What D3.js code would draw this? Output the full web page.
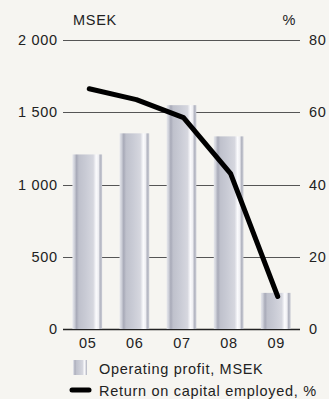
<!DOCTYPE html>
<meta charset="utf-8">
<style>
body { margin: 0; background: #f6f5f1; }
svg { display: block; }
text { font-family: "Liberation Sans", Arial, sans-serif; fill: #222; font-size: 14.5px; letter-spacing: 0.7px; }
</style>
<body>
<svg width="329" height="399"></svg>
<script src="https://d3js.org/d3.v7.min.js"></script>
<script>
var years = ["05", "06", "07", "08", "09"];
var profit = [1208, 1354, 1549, 1333, 250];
var roce = [66.5, 63.5, 58.5, 43, 9];
var leftTicks = [0, 500, 1000, 1500, 2000];
var rightTicks = [0, 20, 40, 60, 80];

var svg = d3.select("svg");
var x0 = 63, x1 = 300, yTop = 40, yBot = 329;

var x = d3.scaleBand().domain(years).range([x0, x1]).paddingInner(0.37).paddingOuter(0.2);
var yL = d3.scaleLinear().domain([0, 2000]).range([yBot, yTop]);
var yR = d3.scaleLinear().domain([0, 80]).range([yBot, yTop]);

// bar gradient (cylinder look)
var grad = svg.append("defs").append("linearGradient").attr("id", "bar")
    .attr("x1", 0).attr("x2", 1).attr("y1", 0).attr("y2", 0);
[[0, "#e6e7ec"], [0.06, "#d2d4dc"], [0.14, "#a8aab8"], [0.22, "#bfc1cc"],
 [0.45, "#c9cbd5"], [0.7, "#d6d7df"], [0.8, "#fbfbfd"], [0.88, "#eeeef2"],
 [0.93, "#b3b5c1"], [1, "#c8cad3"]].forEach(function(s) {
  grad.append("stop").attr("offset", s[0]).attr("stop-color", s[1]);
});

// grid lines
svg.append("g").selectAll("line").data(leftTicks).enter().append("line")
    .attr("x1", x0).attr("x2", x1)
    .attr("y1", function(d) { return Math.round(yL(d)) + 0.5; })
    .attr("y2", function(d) { return Math.round(yL(d)) + 0.5; })
    .attr("stroke", function(d) { return d == 0 ? "#222" : "#555"; })
    .attr("stroke-width", function(d) { return d == 0 ? 1.5 : 1; });

// bars
svg.append("g").selectAll("rect").data(profit).enter().append("rect")
    .attr("x", function(d, i) { return x(years[i]); })
    .attr("width", x.bandwidth())
    .attr("y", function(d) { return yL(d); })
    .attr("height", function(d) { return yBot - yL(d); })
    .attr("fill", "url(#bar)");

// axis labels
svg.append("g").selectAll("text").data(leftTicks).enter().append("text")
    .attr("x", 57.7).attr("y", function(d) { return yL(d) + 5; })
    .attr("text-anchor", "end")
    .text(function(d) { return d3.format(",")(d).replace(",", " "); });

svg.append("g").selectAll("text").data(rightTicks).enter().append("text")
    .attr("x", 309).attr("y", function(d) { return yR(d) + 5; })
    .text(function(d) { return d; });

svg.append("g").selectAll("text").data(years).enter().append("text")
    .attr("x", function(d) { return x(d) + x.bandwidth() / 2 + 0.5; })
    .attr("y", 348).attr("text-anchor", "middle")
    .text(function(d) { return d; });

svg.append("text").attr("x", 73).attr("y", 25).text("MSEK");
svg.append("text").attr("x", 296).attr("y", 25).attr("text-anchor", "end").text("%");

// line
var line = d3.line()
    .x(function(d, i) { return x(years[i]) + x.bandwidth() / 2 + 2; })
    .y(function(d) { return yR(d); });
svg.append("path").datum(roce)
    .attr("d", line).attr("fill", "none").attr("stroke", "#000")
    .attr("stroke-width", 5).attr("stroke-linecap", "round").attr("stroke-linejoin", "round");

// legend
svg.append("rect").attr("x", 73).attr("y", 360).attr("width", 14).attr("height", 15).attr("fill", "url(#bar)");
svg.append("text").attr("x", 99).attr("y", 374).text("Operating profit, MSEK");
svg.append("line").attr("x1", 72).attr("x2", 89).attr("y1", 390).attr("y2", 390)
    .attr("stroke", "#000").attr("stroke-width", 5).attr("stroke-linecap", "round");
svg.append("text").attr("x", 99).attr("y", 396).text("Return on capital employed, %");
</script>
